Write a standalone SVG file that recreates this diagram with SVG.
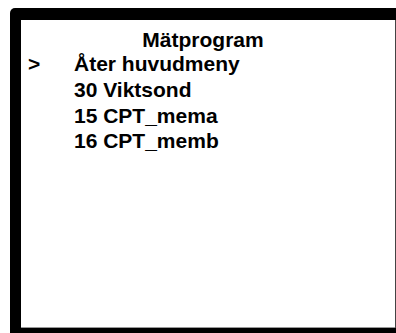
<svg xmlns="http://www.w3.org/2000/svg" width="396" height="333" viewBox="0 0 396 333">
  <style>
    .t { font-family: "Liberation Sans", Arial, sans-serif; font-weight: bold; font-size: 21px; fill: #000; }
  </style>
  <rect x="0" y="0" width="396" height="333" fill="#fff"/>
  <!-- display bezel -->
  <g id="bezel">
    <rect x="10" y="8" width="396" height="340" rx="5" fill="#000"/>
    <rect x="21" y="20" width="374" height="308" fill="#fff"/>
    <line x1="395.5" y1="20" x2="395.5" y2="328" stroke="#444" stroke-width="1"/>
    <line x1="21" y1="327.5" x2="395" y2="327.5" stroke="#999" stroke-width="1"/>
  </g>
  <!-- menu screen -->
  <g id="title">
    <text class="t" x="203" y="47" text-anchor="middle">Mätprogram</text>
  </g>
  <g id="cursor">
    <text class="t" x="28" y="71">&gt;</text>
  </g>
  <g id="menu">
    <text class="t" x="74" y="71">Åter huvudmeny</text>
    <text class="t" x="74" y="97">30 Viktsond</text>
    <text class="t" x="74" y="123">15 CPT_mema</text>
    <text class="t" x="74" y="148">16 CPT_memb</text>
  </g>
</svg>
